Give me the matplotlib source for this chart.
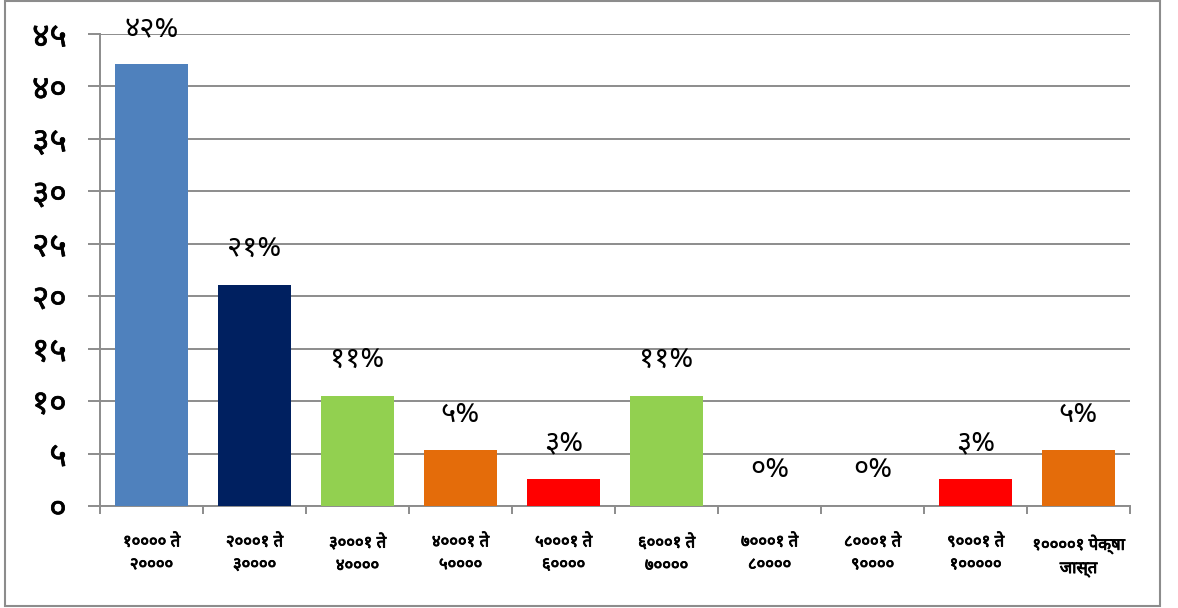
import matplotlib
matplotlib.use('Agg')
import matplotlib.pyplot as plt
import matplotlib.patheffects as pe
from matplotlib.patches import Rectangle

plt.rcParams['font.family'] = ['Noto Sans Devanagari', 'DejaVu Sans']

categories = ["१०००० ते\n२००००", "२०००१ ते\n३००००", "३०००१ ते\n४००००",
              "४०००१ ते\n५००००", "५०००१ ते\n६००००", "६०००१ ते\n७००००",
              "७०००१ ते\n८००००", "८०००१ ते\n९००००", "९०००१ ते\n१०००००",
              "१००००१ पेक्षा\nजास्त"]
values = [42.1, 21.1, 10.5, 5.3, 2.6, 10.5, 0, 0, 2.6, 5.3]
value_labels = ["४२%", "२१%", "११%", "५%", "३%", "११%", "०%", "०%", "३%", "५%"]
colors = ["#4F81BD", "#002060", "#92D050", "#E46C0A", "#FF0000",
          "#92D050", "#E46C0A", "#E46C0A", "#FF0000", "#E46C0A"]
yticks = [0, 5, 10, 15, 20, 25, 30, 35, 40, 45]
ytick_labels = ["०", "५", "१०", "१५", "२०", "२५", "३०", "३५", "४०", "४५"]

W, H = 1178, 608
fig = plt.figure(figsize=(W / 100, H / 100), dpi=100)
fig.patches.append(Rectangle((5 / W, 2 / H), 1155 / W, 605 / H, transform=fig.transFigure,
                             fill=False, edgecolor='#8C8C8C', linewidth=1.5))

ax = fig.add_axes([100 / W, 102 / H, 1030 / W, 472 / H])
x = list(range(len(categories)))
ax.bar(x, values, width=0.71, color=colors, zorder=3)
ax.set_xlim(-0.5, len(categories) - 0.5)
ax.set_ylim(0, 45)

ax.set_yticks(yticks)
ax.set_yticklabels(ytick_labels, fontsize=24,
                   path_effects=[pe.withStroke(linewidth=0.5, foreground='black')])
ax.yaxis.grid(True, color='#8C8C8C', linewidth=1.4, zorder=0)
ax.set_axisbelow(True)
ax.tick_params(axis='y', length=9, width=1.4, color='#8C8C8C', pad=15)

ax.set_xticks([i - 0.5 for i in range(len(categories) + 1)])
ax.set_xticklabels([])
ax.set_xticks(x, minor=True)
ax.set_xticklabels(categories, minor=True, fontsize=12, linespacing=1.55,
                   path_effects=[pe.withStroke(linewidth=0.6, foreground='black')])
ax.tick_params(axis='x', which='major', length=6, width=1.4, color='#8C8C8C')
ax.tick_params(axis='x', which='minor', length=0, pad=20)

for s in ['top', 'right']:
    ax.spines[s].set_visible(False)
for s in ['left', 'bottom']:
    ax.spines[s].set_color('#8C8C8C')
    ax.spines[s].set_linewidth(1.4)

for xi, v, lab in zip(x, values, value_labels):
    ax.annotate(lab, (xi, v), xytext=(0, 26), textcoords='offset points',
                ha='center', va='center', fontsize=21)

fig.savefig('out.png', dpi=100)
